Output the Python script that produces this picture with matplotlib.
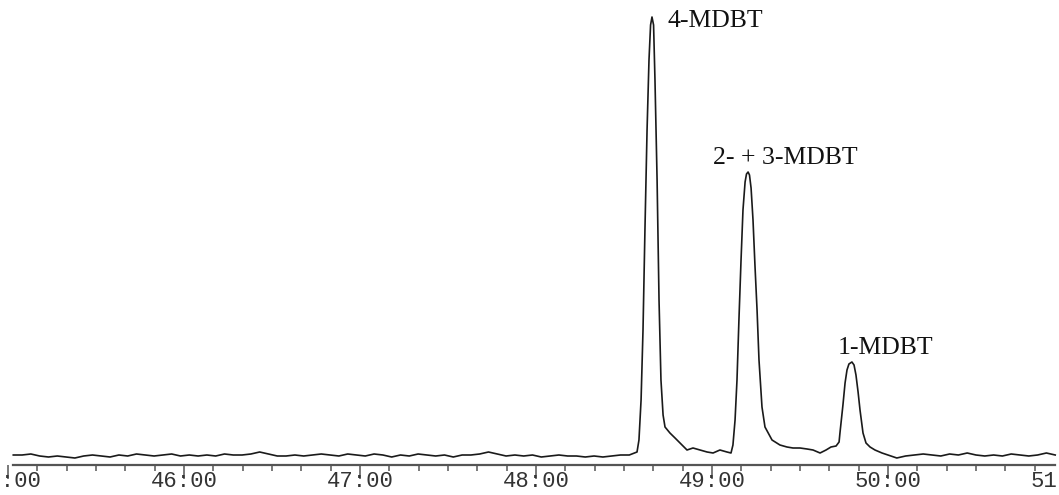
import matplotlib
matplotlib.use("Agg")
import matplotlib.pyplot as plt
from matplotlib.ticker import MultipleLocator, FuncFormatter

# retention time (min) and detector response (arbitrary units)
time = [
    45.03, 45.08, 45.13, 45.18, 45.23, 45.28, 45.33, 45.38, 45.43, 45.48,
    45.53, 45.58, 45.63, 45.68, 45.73, 45.78, 45.83, 45.88, 45.93, 45.98,
    46.03, 46.08, 46.13, 46.18, 46.23, 46.28, 46.33, 46.38, 46.43, 46.48,
    46.53, 46.58, 46.63, 46.68, 46.73, 46.78, 46.83, 46.88, 46.93, 46.98,
    47.03, 47.08, 47.13, 47.18, 47.23, 47.28, 47.33, 47.38, 47.43, 47.48,
    47.53, 47.58, 47.63, 47.68, 47.73, 47.78, 47.83, 47.88, 47.93, 47.98,
    48.03, 48.08, 48.13, 48.18, 48.23, 48.28, 48.33, 48.38, 48.43, 48.48,
    48.53,
    # 4-MDBT
    48.574, 48.585, 48.597, 48.608, 48.619, 48.631, 48.642, 48.651, 48.659,
    48.668, 48.676, 48.688, 48.699, 48.710, 48.722, 48.733, 48.761, 48.790,
    48.818, 48.858, 48.892, 48.932, 48.972, 49.006, 49.045, 49.085, 49.108,
    # 2- + 3-MDBT
    49.119, 49.131, 49.142, 49.153, 49.165, 49.176, 49.188, 49.196, 49.205,
    49.213, 49.222, 49.233, 49.244, 49.256, 49.267, 49.284, 49.301, 49.341,
    49.386, 49.426, 49.460, 49.500, 49.540, 49.574, 49.614, 49.648, 49.676,
    49.705, 49.722,
    # 1-MDBT
    49.727, 49.744, 49.756, 49.767, 49.778, 49.795, 49.807, 49.818, 49.830,
    49.841, 49.858, 49.875, 49.898, 49.926, 49.966, 50.000,
    50.05, 50.10, 50.15, 50.20, 50.25, 50.30, 50.35, 50.40, 50.45, 50.50,
    50.55, 50.60, 50.65, 50.70, 50.75, 50.80, 50.85, 50.90, 50.95,
]
signal = [
    10, 10, 11, 9, 8, 9, 8, 7, 9, 10,
    9, 8, 10, 9, 11, 10, 9, 10, 11, 9,
    10, 9, 10, 9, 11, 10, 10, 11, 13, 11,
    9, 9, 10, 9, 10, 11, 10, 9, 11, 10,
    9, 11, 10, 8, 10, 9, 11, 10, 9, 10,
    8, 10, 10, 11, 13, 11, 9, 10, 9, 10,
    8, 9, 10, 9, 9, 8, 9, 8, 9, 10,
    10,
    13, 25, 65, 135, 235, 335, 405, 440, 448,
    440, 385, 285, 165, 85, 50, 38, 32, 27,
    22, 15, 17, 15, 13, 12, 15, 13, 12,
    20, 45, 85, 145, 205, 255, 283, 291, 293,
    290, 277, 245, 200, 155, 105, 58, 38, 25,
    20, 18, 17, 17, 16, 15, 12, 15, 18,
    19, 23,
    32, 60, 82, 95, 101, 103, 100, 90, 73,
    55, 32, 22, 18, 15, 12, 10,
    7, 9, 10, 11, 10, 9, 11, 10, 12, 10,
    9, 10, 9, 11, 10, 9, 10, 12, 10,
]

peak_names = ["4-MDBT", "2- + 3-MDBT", "1-MDBT"]
label_time = [48.75, 49.006, 49.716]
label_signal = [444, 307, 117]

fig = plt.figure(figsize=(10.59, 4.95), dpi=100)
# axis runs from 45:00 to 51:00, the ends fall at / past the picture edges
ax = fig.add_axes([8 / 1059, 1 - 465 / 495, 1056 / 1059, 465 / 495])

ax.plot(time, signal, color="#1a1a1a", lw=1.2)

for name, tx, ty in zip(peak_names, label_time, label_signal):
    ax.text(tx, ty, name, ha="left", va="center", fontsize=18.5,
            family="Liberation Serif", color="#111111")

ax.set_xlim(45, 51)
ax.set_ylim(0, 465)

ax.xaxis.set_major_locator(MultipleLocator(1))
ax.xaxis.set_minor_locator(MultipleLocator(1 / 6))
ax.xaxis.set_major_formatter(FuncFormatter(lambda v, p: "%d:00" % round(v)))
ax.tick_params(axis="x", which="major", length=10, width=1.1, color="#555555",
               pad=-6, labelsize=16, labelcolor="#333333")
ax.tick_params(axis="x", which="minor", length=4.5, width=1.1, color="#555555")
for lbl in ax.get_xticklabels():
    lbl.set_family("Liberation Mono")

ax.set_yticks([])
for side in ["left", "right", "top"]:
    ax.spines[side].set_visible(False)
ax.spines["bottom"].set_color("#555555")
ax.spines["bottom"].set_linewidth(1.6)
ax.spines["bottom"].set_bounds(45.03, 50.95)

fig.savefig("out.png", dpi=100)
